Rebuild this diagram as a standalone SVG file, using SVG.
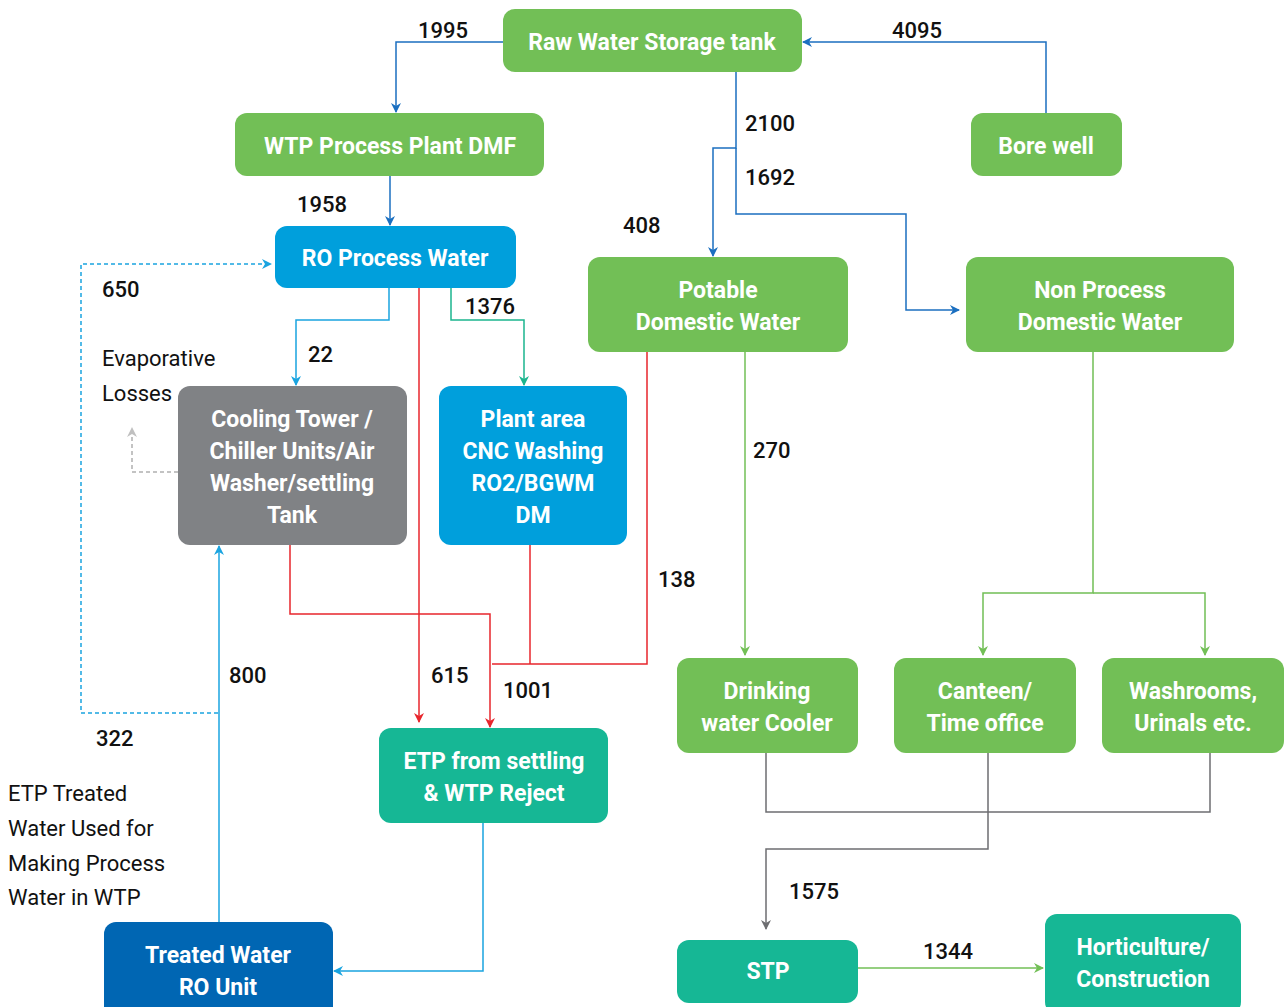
<svg xmlns="http://www.w3.org/2000/svg" width="1284" height="1007" viewBox="0 0 1284 1007">
<style>
.n text{font-family:Roboto,"Liberation Sans",sans-serif;font-weight:bold;font-size:23px;fill:#fff;text-anchor:middle}
.g{fill:#72bf56}.b{fill:#009fdc}.gr{fill:#808285}.t{fill:#16b795}.db{fill:#0066b3}
.lbl{font-family:Roboto,"Liberation Sans",sans-serif;font-weight:500;font-size:22px;fill:#111}
.txt{font-family:Roboto,"Liberation Sans",sans-serif;font-size:22px;fill:#111}
#connectors path{fill:none;stroke-width:1.5}
.cb{stroke:#1b6fc0}.clb{stroke:#1aa4e0}.ct{stroke:#1bb58e}.cr{stroke:#e8262c}.cg{stroke:#72bf56}.cgr{stroke:#6d6e71}
.dash{stroke-dasharray:4 3}
</style>
<defs>
<marker id="ab" viewBox="0 0 10 10" refX="9" refY="5" markerWidth="10" markerHeight="10" markerUnits="userSpaceOnUse" orient="auto"><path d="M0,0 L10,5 L0,10 L3,5 z" fill="#1b6fc0"/></marker>
<marker id="alb" viewBox="0 0 10 10" refX="9" refY="5" markerWidth="10" markerHeight="10" markerUnits="userSpaceOnUse" orient="auto"><path d="M0,0 L10,5 L0,10 L3,5 z" fill="#1aa4e0"/></marker>
<marker id="at" viewBox="0 0 10 10" refX="9" refY="5" markerWidth="10" markerHeight="10" markerUnits="userSpaceOnUse" orient="auto"><path d="M0,0 L10,5 L0,10 L3,5 z" fill="#1bb58e"/></marker>
<marker id="ar" viewBox="0 0 10 10" refX="9" refY="5" markerWidth="10" markerHeight="10" markerUnits="userSpaceOnUse" orient="auto"><path d="M0,0 L10,5 L0,10 L3,5 z" fill="#e8262c"/></marker>
<marker id="ag" viewBox="0 0 10 10" refX="9" refY="5" markerWidth="10" markerHeight="10" markerUnits="userSpaceOnUse" orient="auto"><path d="M0,0 L10,5 L0,10 L3,5 z" fill="#72bf56"/></marker>
<marker id="agr" viewBox="0 0 10 10" refX="9" refY="5" markerWidth="10" markerHeight="10" markerUnits="userSpaceOnUse" orient="auto"><path d="M0,0 L10,5 L0,10 L3,5 z" fill="#6d6e71"/></marker>
<marker id="alg" viewBox="0 0 10 10" refX="9" refY="5" markerWidth="10" markerHeight="10" markerUnits="userSpaceOnUse" orient="auto"><path d="M0,0 L10,5 L0,10 L3,5 z" fill="#c0c0c0"/></marker>
</defs>
<rect width="1284" height="1007" fill="#fff"/>
<g id="connectors">
<path class="cb" d="M503,42 H396 V112" marker-end="url(#ab)"/>
<path class="cb" d="M1046,113 V42 H803" marker-end="url(#ab)"/>
<path class="cb" d="M390,176 V225" marker-end="url(#ab)"/>
<path class="cb" d="M736,72 V148 H713 V256" marker-end="url(#ab)"/>
<path class="cb" d="M736,148 V214 H906 V310 H959" marker-end="url(#ab)"/>
<path class="clb dash" d="M218,713 H81 V264 H271" marker-end="url(#alb)"/>
<path class="clb" d="M389,288 V320 H296 V385" marker-end="url(#alb)"/>
<path class="ct" d="M451,288 V320 H524 V385" marker-end="url(#at)"/>
<path class="cr" d="M419,288 V722" marker-end="url(#ar)"/>
<path class="cr" d="M290,545 V614 H490 V727" marker-end="url(#ar)"/>
<path class="cr" d="M530,545 V664"/>
<path class="cr" d="M492,664 H647 V352"/>
<path class="dash" style="stroke:#b0b0b0" d="M178,472 H132 V428" marker-end="url(#alg)"/>
<path class="clb" d="M219,922 V546" marker-end="url(#alb)"/>
<path class="clb" d="M483,823 V971 H334" marker-end="url(#alb)"/>
<path class="cg" d="M745,352 V655" marker-end="url(#ag)"/>
<path class="cg" d="M1093,352 V593 H983 V655" marker-end="url(#ag)"/>
<path class="cg" d="M1093,593 H1205 V655" marker-end="url(#ag)"/>
<path class="cgr" d="M766,753 V812 H1210 V753"/>
<path class="cgr" d="M988,753 V849 H766 V929" marker-end="url(#agr)"/>
<path class="cg" d="M858,968 H1043" marker-end="url(#ag)"/>
</g>
<g id="labels">
<text class="lbl" x="418" y="38">1995</text>
<text class="lbl" x="892" y="38">4095</text>
<text class="lbl" x="297" y="212">1958</text>
<text class="lbl" x="745" y="131">2100</text>
<text class="lbl" x="745" y="185">1692</text>
<text class="lbl" x="623" y="233">408</text>
<text class="lbl" x="102" y="297">650</text>
<text class="lbl" x="465" y="314">1376</text>
<text class="lbl" x="308" y="362">22</text>
<text class="txt" x="102" y="366">Evaporative</text>
<text class="txt" x="102" y="401">Losses</text>
<text class="lbl" x="753" y="458">270</text>
<text class="lbl" x="658" y="587">138</text>
<text class="lbl" x="229" y="683">800</text>
<text class="lbl" x="431" y="683">615</text>
<text class="lbl" x="503" y="698">1001</text>
<text class="lbl" x="96" y="746">322</text>
<text class="txt" x="8" y="801">ETP Treated</text>
<text class="txt" x="8" y="836">Water Used for</text>
<text class="txt" x="8" y="871">Making Process</text>
<text class="txt" x="8" y="905">Water in WTP</text>
<text class="lbl" x="789" y="899">1575</text>
<text class="lbl" x="923" y="959">1344</text>
</g>
<g id="raw" class="n"><rect class="g" x="503" y="9" width="299" height="63" rx="12"/><text x="652" y="50">Raw Water Storage tank</text></g>
<g id="bore" class="n"><rect class="g" x="971" y="113" width="151" height="63" rx="12"/><text x="1046" y="154">Bore well</text></g>
<g id="wtp" class="n"><rect class="g" x="235" y="113" width="309" height="63" rx="12"/><text x="390" y="154">WTP Process Plant DMF</text></g>
<g id="ro" class="n"><rect class="b" x="275" y="226" width="241" height="62" rx="12"/><text x="395" y="266">RO Process Water</text></g>
<g id="potable" class="n"><rect class="g" x="588" y="257" width="260" height="95" rx="12"/><text x="718" y="298">Potable</text><text x="718" y="330">Domestic Water</text></g>
<g id="nonprocess" class="n"><rect class="g" x="966" y="257" width="268" height="95" rx="12"/><text x="1100" y="298">Non Process</text><text x="1100" y="330">Domestic Water</text></g>
<g id="cooling" class="n"><rect class="gr" x="178" y="386" width="229" height="159" rx="12"/><text x="292" y="427">Cooling Tower /</text><text x="292" y="459">Chiller Units/Air</text><text x="292" y="491">Washer/settling</text><text x="292" y="523">Tank</text></g>
<g id="plant" class="n"><rect class="b" x="439" y="386" width="188" height="159" rx="12"/><text x="533" y="427">Plant area</text><text x="533" y="459">CNC Washing</text><text x="533" y="491">RO2/BGWM</text><text x="533" y="523">DM</text></g>
<g id="drinking" class="n"><rect class="g" x="677" y="658" width="181" height="95" rx="12"/><text x="767" y="699">Drinking</text><text x="767" y="731">water Cooler</text></g>
<g id="canteen" class="n"><rect class="g" x="894" y="658" width="182" height="95" rx="12"/><text x="985" y="699">Canteen/</text><text x="985" y="731">Time office</text></g>
<g id="washrooms" class="n"><rect class="g" x="1102" y="658" width="182" height="95" rx="12"/><text x="1193" y="699">Washrooms,</text><text x="1193" y="731">Urinals etc.</text></g>
<g id="etp" class="n"><rect class="t" x="379" y="728" width="229" height="95" rx="12"/><text x="494" y="769">ETP from settling</text><text x="494" y="801">&amp; WTP Reject</text></g>
<g id="treated" class="n"><rect class="db" x="104" y="922" width="229" height="100" rx="12"/><text x="218" y="963">Treated Water</text><text x="218" y="995">RO Unit</text></g>
<g id="stp" class="n"><rect class="t" x="677" y="940" width="181" height="63" rx="12"/><text x="768" y="979">STP</text></g>
<g id="horti" class="n"><rect class="t" x="1045" y="914" width="196" height="100" rx="12"/><text x="1143" y="955">Horticulture/</text><text x="1143" y="987">Construction</text></g>
</svg>
